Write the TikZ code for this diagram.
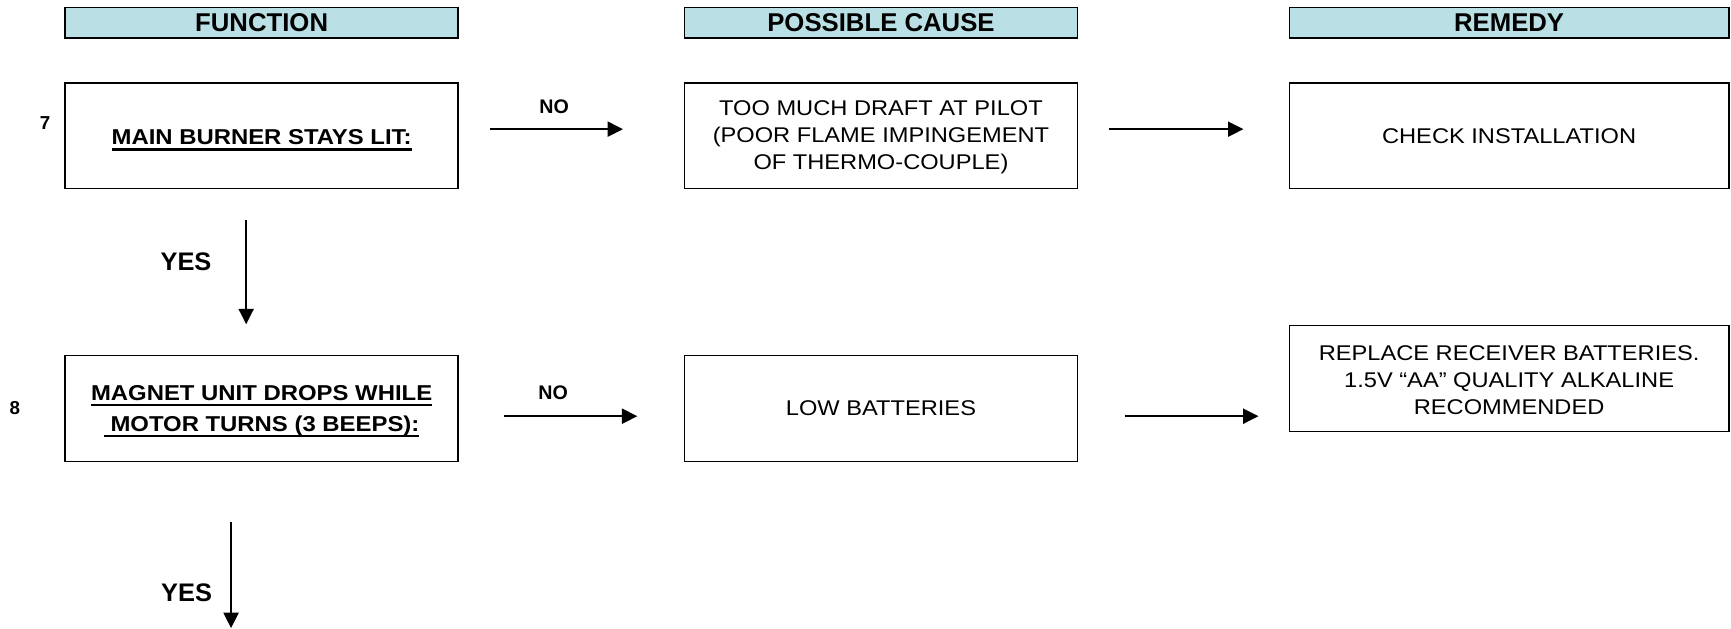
\documentclass[tikz,border=0pt]{standalone}
\usepackage{fontspec}
\setmainfont{Liberation Sans}
\newfontfamily\boxfont{Liberation Sans}[FakeStretch=1.11]
\usetikzlibrary{arrows.meta}
\definecolor{hdrblue}{RGB}{186,224,229}
\newcommand{\myul}[1]{\setbox0\hbox{#1}\rlap{\smash{\rule[-5.2pt]{\wd0}{2pt}}}\box0}
\begin{document}
\begin{tikzpicture}[x=1pt,y=-1pt,
  hdr/.style={draw,fill=hdrblue,line width=1.6pt,inner sep=0pt,minimum height=28pt,
    font=\fontsize{23.3}{26}\selectfont\bfseries},
  box/.style={draw,line width=1.3pt,inner sep=0pt,align=center},
  fbox/.style={box,font=\boxfont\fontsize{19.5}{28}\selectfont\bfseries},
  tbox/.style={box,font=\boxfont\fontsize{19.3}{24.5}\selectfont},
  lbl/.style={inner sep=0pt,font=\fontsize{17.8}{20}\selectfont\bfseries},
  nlbl/.style={inner sep=0pt,font=\fontsize{17}{20}\selectfont\bfseries},
  ylbl/.style={inner sep=0pt,font=\fontsize{23}{25}\selectfont\bfseries},
  arr/.style={line width=2.2pt,-{Triangle[length=14pt,width=13.5pt]}}]
\useasboundingbox (0,0) rectangle (1568,569);
% headers
\node[hdr,minimum width=356pt] (h1) at (237,20.7) {FUNCTION};
\node[hdr,minimum width=356pt] (h2) at (798,20.7) {POSSIBLE CAUSE};
\node[hdr,minimum width=398pt] (h3) at (1367,20.7) {REMEDY};
% row 7
\node[fbox,minimum width=356pt,minimum height=96pt] (f7) at (237,123) {};
\node[inner sep=0pt,font=\boxfont\fontsize{19.5}{28}\selectfont\bfseries] (f7t) at (237,124.5) {\myul{MAIN BURNER STAYS LIT:}};
\node[tbox,minimum width=356pt,minimum height=96pt] (c7) at (798,123) {};
\node[inner sep=0pt,align=center,font=\boxfont\fontsize{19.3}{24.5}\selectfont] (c7t) at (798,124) {TOO MUCH DRAFT AT PILOT\\(POOR FLAME IMPINGEMENT\\OF THERMO-COUPLE)};
\node[tbox,minimum width=398pt,minimum height=96pt] (r7) at (1367,123) {CHECK INSTALLATION};
\node[nlbl] (n7) at (40.8,111.6) {7};
% row 8
\node[fbox,minimum width=356pt,minimum height=96pt] (f8) at (237,370) {};
\node[inner sep=0pt,align=center,font=\boxfont\fontsize{19.5}{28}\selectfont\bfseries] (f8t) at (237,372) {\myul{MAGNET UNIT DROPS WHILE}\\\myul{\ MOTOR TURNS (3 BEEPS):}};
\node[tbox,minimum width=356pt,minimum height=96pt] (c8) at (798,370) {LOW BATTERIES};
\node[tbox,minimum width=398pt,minimum height=96pt] (r8) at (1367,343) {};
\node[inner sep=0pt,align=center,font=\boxfont\fontsize{19.3}{24.5}\selectfont] (r8t) at (1367,344.5) {REPLACE RECEIVER BATTERIES.\\1.5V “AA” QUALITY ALKALINE\\RECOMMENDED};
\node[nlbl] (n8) at (13.5,370) {8};
% connectors
\draw[arr,shorten <=28pt,shorten >=55pt] ([yshift=6pt]f7.east) -- ([yshift=6pt]c7.west);
\node[lbl] (no7) at (502,97) {NO};
\draw[arr,shorten <=28pt,shorten >=41pt] ([yshift=6pt]c7.east) -- ([yshift=6pt]r7.west);
\draw[arr,shorten <=27.6pt,shorten >=27.6pt] ([xshift=-14pt]f7.south) -- ([xshift=-14pt]f8.north);
\node[ylbl] (yes7) at (168.5,237) {YES};
\draw[arr,shorten <=41pt,shorten >=42pt] ([yshift=-7pt]f8.east) -- ([yshift=-7pt]c8.west);
\node[lbl] (no8) at (501,356) {NO};
\coordinate (r8in) at (1168,377);
\draw[arr,shorten <=42pt,shorten >=28pt] ([yshift=-7pt]c8.east) -- (r8in);
\coordinate (endd) at (209.3,569);
\draw[arr,shorten <=54.5pt] ([xshift=-27.7pt]f8.south) -- (endd);
\node[ylbl] (yes8) at (169,537) {YES};
\end{tikzpicture}
\end{document}
